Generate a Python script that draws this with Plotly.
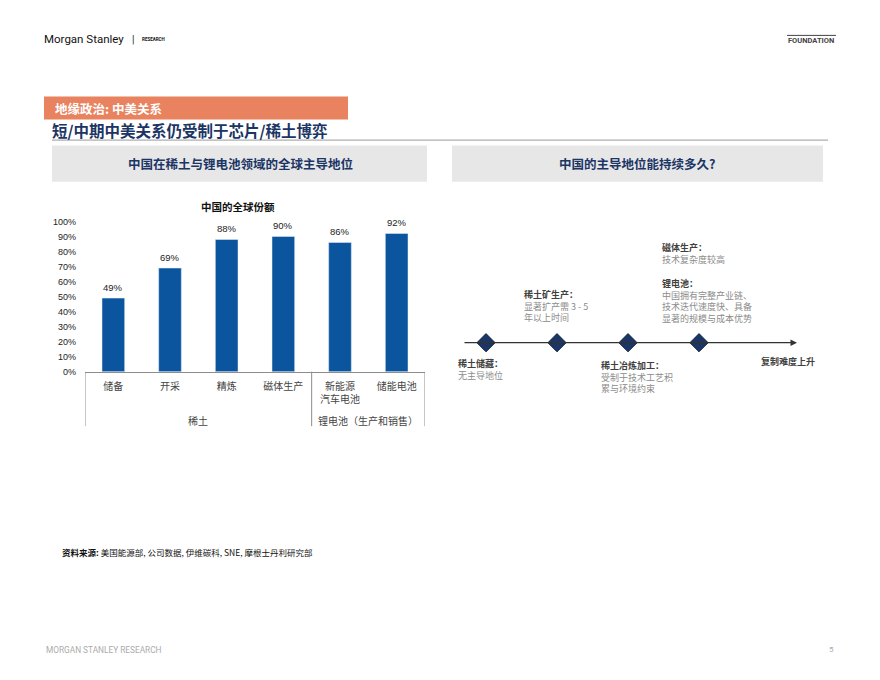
import plotly.graph_objs as go

# 数据
categories = ["储备", "开采", "精炼", "磁体生产", "新能源<br>汽车电池", "储能电池"]
share_pct = [49, 69, 88, 90, 86, 92]
bar_labels = ["49%", "69%", "88%", "90%", "86%", "92%"]
y_ticks = [0, 10, 20, 30, 40, 50, 60, 70, 80, 90, 100]
y_tick_text = ["0%", "10%", "20%", "30%", "40%", "50%", "60%", "70%", "80%", "90%", "100%"]
groups = ["稀土", "锂电池（生产和销售）"]

timeline_stage = [1, 2, 3, 4]
timeline_level = [0, 0, 0, 0]

# 页面默认有 8px 边距，图形尺寸相应缩小
OFF = 8
W, H = 880 - 2 * OFF, 680 - 2 * OFF
SY = 0.983  # 截图纵向略有压缩，做个校正
NAVY = "#1B3564"
SANS = "Noto Sans CJK SC"


def px(x):
    return (x - OFF) / W


def py(y):
    y = 340 + (y - 340) / SY
    return 1 - (y - OFF) / H


fig = go.Figure()

fig.add_trace(go.Bar(
    x=list(range(len(categories))),
    y=share_pct,
    marker=dict(color="#0B559F"),
    width=0.4,
    showlegend=False,
    xaxis="x", yaxis="y",
))

fig.add_trace(go.Scatter(
    x=timeline_stage,
    y=timeline_level,
    mode="markers",
    marker=dict(symbol="diamond", size=14, color=NAVY,
                line=dict(color="#0E2447", width=1)),
    showlegend=False,
    xaxis="x2", yaxis="y2",
))

annotations = []

# 柱顶数值
for i, (v, t) in enumerate(zip(share_pct, bar_labels)):
    annotations.append(dict(x=i, y=v, xref="x", yref="y", text=t, showarrow=False,
                            yshift=11, font=dict(family="Liberation Sans", size=9.5, color="#222")))

# 分组标签
annotations.append(dict(x=1.5, y=py(420), xref="x", yref="paper", text=groups[0], showarrow=False,
                        font=dict(family=SANS, size=10, color="#444")))
annotations.append(dict(x=4.5, y=py(420), xref="x", yref="paper", text=groups[1], showarrow=False,
                        font=dict(family=SANS, size=10, color="#444")))

# 时间轴箭头
annotations.append(dict(x=5.38, y=0, ax=0.676, ay=0, xref="x2", yref="y2", axref="x2", ayref="y2",
                        text="", showarrow=True, arrowhead=2, arrowsize=1, arrowwidth=1.3,
                        arrowcolor="#333", standoff=0, startstandoff=0))


def text_block(x, y, head, lines):
    body = "<br>".join("<span style='color:#8C8C8C'>" + s + "</span>" for s in lines)
    annotations.append(dict(x=px(x), y=py(y - 6), xref="paper", yref="paper", xanchor="left", yanchor="top",
                            align="left", text="<b>" + head + "</b><br>" + body, showarrow=False,
                            font=dict(family=SANS, size=9, color="#404040")))


text_block(660, 245, "磁体生产：", ["技术复杂度较高"])
text_block(660, 281, "锂电池：", ["中国拥有完整产业链、", "技术迭代速度快、具备", "显著的规模与成本优势"])
text_block(522, 292, "稀土矿生产：", ["显著扩产需 3 - 5", "年以上时间"])
text_block(456, 361, "稀土储藏：", ["无主导地位"])
text_block(599, 363, "稀土冶炼加工：", ["受制于技术工艺积", "累与环境约束"])
annotations.append(dict(x=px(759), y=py(361), xref="paper", yref="paper", xanchor="left", yanchor="middle",
                        text="<b>复制难度上升</b>", showarrow=False,
                        font=dict(family=SANS, size=9, color="#404040")))

# 页眉页脚与标题
annotations += [
    dict(x=px(42), y=py(40), xref="paper", yref="paper", xanchor="left", yanchor="middle",
         text="Morgan Stanley", showarrow=False, font=dict(family="Roboto", size=11.5, color="#111")),
    dict(x=px(133), y=py(40), xref="paper", yref="paper", xanchor="center", yanchor="middle",
         text="|", showarrow=False, font=dict(family="Roboto", size=10, color="#111")),
    dict(x=px(140), y=py(40.5), xref="paper", yref="paper", xanchor="left", yanchor="middle",
         text="<b>RESEARCH</b>", showarrow=False, font=dict(family="Roboto", size=4.5, color="#111")),
    dict(x=px(836), y=py(41.5), xref="paper", yref="paper", xanchor="right", yanchor="middle",
         text="<b>FOUNDATION</b>", showarrow=False, font=dict(family="Roboto", size=7.5, color="#444")),
    dict(x=px(53), y=py(108.5), xref="paper", yref="paper", xanchor="left", yanchor="middle",
         text="<b>地缘政治: 中美关系</b>", showarrow=False, font=dict(family=SANS, size=12.5, color="white")),
    dict(x=px(50), y=py(130.5), xref="paper", yref="paper", xanchor="left", yanchor="middle",
         text="<b>短/中期中美关系仍受制于芯片/稀土博弈</b>", showarrow=False,
         font=dict(family=SANS, size=15.5, color=NAVY)),
    dict(x=px(240), y=py(164), xref="paper", yref="paper", xanchor="center", yanchor="middle",
         text="<b>中国在稀土与锂电池领域的全球主导地位</b>", showarrow=False,
         font=dict(family=SANS, size=12.5, color=NAVY)),
    dict(x=px(637), y=py(164), xref="paper", yref="paper", xanchor="center", yanchor="middle",
         text="<b>中国的主导地位能持续多久?</b>", showarrow=False,
         font=dict(family=SANS, size=12.5, color=NAVY)),
    dict(x=px(238), y=py(207), xref="paper", yref="paper", xanchor="center", yanchor="middle",
         text="<b>中国的全球份额</b>", showarrow=False, font=dict(family=SANS, size=10.5, color="#111")),
    dict(x=px(60), y=py(552), xref="paper", yref="paper", xanchor="left", yanchor="middle",
         text="<b>资料来源:</b> 美国能源部, 公司数据, 伊维碳科, SNE, 摩根士丹利研究部", showarrow=False,
         font=dict(family=SANS, size=8.5, color="#111")),
    dict(x=px(44), y=py(649), xref="paper", yref="paper", xanchor="left", yanchor="middle",
         text="MORGAN STANLEY RESEARCH", showarrow=False,
         font=dict(family="Roboto", size=8.3, color="#ABABAB")),
    dict(x=px(836), y=py(649), xref="paper", yref="paper", xanchor="right", yanchor="middle",
         text="5", showarrow=False, font=dict(family="Roboto", size=8, color="#ABABAB")),
]

shapes = [
    # 橙色标签
    dict(type="rect", xref="paper", yref="paper", x0=px(44), x1=px(348), y0=py(120), y1=py(97),
         fillcolor="#E8825F", line=dict(width=0), layer="below"),
    # 标题下灰线
    dict(type="line", xref="paper", yref="paper", x0=px(52), x1=px(828), y0=py(140.5), y1=py(140.5),
         line=dict(color="#9A9A9A", width=1)),
    # 灰色标题框
    dict(type="rect", xref="paper", yref="paper", x0=px(52), x1=px(427), y0=py(182), y1=py(146),
         fillcolor="#E7E7E8", line=dict(width=0), layer="below"),
    dict(type="rect", xref="paper", yref="paper", x0=px(452), x1=px(823), y0=py(182), y1=py(146),
         fillcolor="#E7E7E8", line=dict(width=0), layer="below"),
    # FOUNDATION 上划线
    dict(type="line", xref="paper", yref="paper", x0=px(787), x1=px(836), y0=py(36), y1=py(36),
         line=dict(color="#444", width=1)),
]
# 分组分隔线
for xv in [-0.5, 3.5, 5.5]:
    shapes.append(dict(type="line", xref="x", yref="paper", x0=xv, x1=xv, y0=py(371.7), y1=py(426),
                       line=dict(color="#8C8C8C", width=1)))

fig.update_layout(
    width=W, height=H, autosize=False,
    margin=dict(l=0, r=0, t=0, b=0),
    paper_bgcolor="white", plot_bgcolor="white",
    xaxis=dict(domain=[px(85), px(425)], range=[-0.5, 5.5],
               tickvals=list(range(len(categories))), ticktext=categories,
               tickfont=dict(family=SANS, size=10, color="#444"),
               showline=True, linecolor="#8C8C8C", linewidth=1,
               showgrid=False, zeroline=False, ticks="", ticklabelstandoff=5, fixedrange=True),
    yaxis=dict(domain=[py(371.7), py(221.7)], range=[0, 100],
               tickvals=y_ticks, ticktext=y_tick_text,
               tickfont=dict(family="Liberation Sans", size=9, color="#222"),
               showline=False, showgrid=False, zeroline=False, ticks="", ticklabelstandoff=8),
    xaxis2=dict(domain=[px(463), px(797)], range=[0.676, 5.38], anchor="y2", visible=False),
    yaxis2=dict(domain=[py(357.7), py(327.7)], range=[-1, 1], anchor="x2", visible=False),
    annotations=annotations,
    shapes=shapes,
    bargap=0.6,
)

fig.write_html("out.html")
